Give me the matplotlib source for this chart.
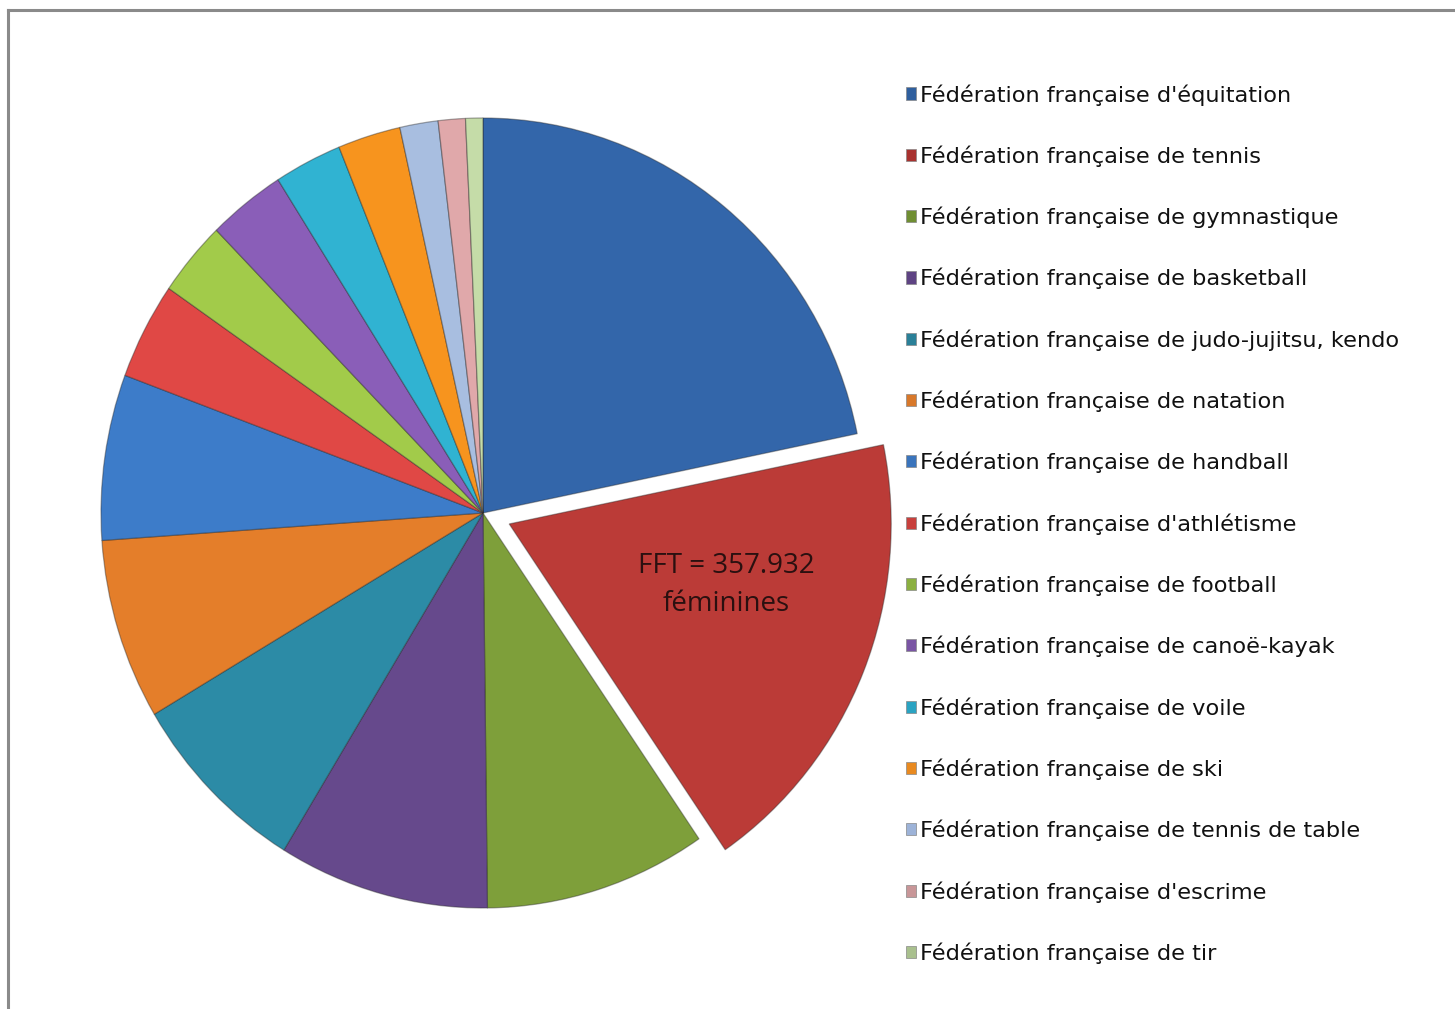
import matplotlib
matplotlib.use("Agg")
import matplotlib.pyplot as plt
from matplotlib.patches import Patch
from matplotlib.lines import Line2D

categories = [
    "Fédération française d'équitation",
    "Fédération française de tennis",
    "Fédération française de gymnastique",
    "Fédération française de basketball",
    "Fédération française de judo-jujitsu, kendo",
    "Fédération française de natation",
    "Fédération française de handball",
    "Fédération française d'athlétisme",
    "Fédération française de football",
    "Fédération française de canoë-kayak",
    "Fédération française de voile",
    "Fédération française de ski",
    "Fédération française de tennis de table",
    "Fédération française d'escrime",
    "Fédération française de tir",
]
# female licence holders (FFT = 357 932)
values = [418000, 357932, 180000, 171000, 149000, 142000, 130000, 76000,
          59000, 63000, 55000, 51000, 31000, 22000, 14000]
colors = ["#3366AA", "#BB3B37", "#7E9F3A", "#66498C", "#2C8BA6", "#E47E2A",
          "#3D7CC9", "#E04845", "#A2CB4A", "#8A5EB8", "#30B3D2", "#F7941E",
          "#A8BEE0", "#E0A8AA", "#C5DCA8"]
legend_colors = ["#2F5F9E", "#A8322F", "#6F8E32", "#5E4383", "#2A8098", "#D8782A",
                 "#3A74BC", "#C8403D", "#8BB040", "#7A55A4", "#2AA3C2", "#E98A20",
                 "#9DB3D8", "#C89698", "#A9C08E"]
explode = [0, 0.074] + [0] * 13
label_text = "FFT = 357.932\nféminines"

W, H = 1455, 1009
fig = plt.figure(figsize=(W / 100, H / 100), dpi=100)
fig.patch.set_facecolor("white")

cx, cy = 483, 513
rx, ry = 382, 395
lim = 1.2
ax = fig.add_axes([(cx - lim * rx) / W, (H - cy - lim * ry) / H,
                   2 * lim * rx / W, 2 * lim * ry / H])
wedges, _ = ax.pie(values, colors=colors, explode=explode, startangle=90,
                   counterclock=False,
                   wedgeprops=dict(edgecolor=(0.15, 0.15, 0.15, 0.4), linewidth=0.9))
ax.set_aspect("auto")
ax.set_xlim(-lim, lim)
ax.set_ylim(-lim, lim)
ax.axis("off")

ax.text(243 / rx, -72 / ry, label_text, ha="center", va="center",
        fontsize=20, color="#2a1010", family=["Open Sans", "DejaVu Sans"],
        linespacing=1.45)

handles = [Patch(facecolor=c, edgecolor="#888888", linewidth=0.5) for c in legend_colors]
leg = fig.legend(handles, categories, loc="upper left",
                 bbox_to_anchor=(906 / W, 1 - 84 / H),
                 frameon=False, prop=dict(family="DejaVu Sans", size=16.2),
                 handlelength=0.45, handleheight=0.45, handletextpad=0.15,
                 labelspacing=1.77, borderpad=0, borderaxespad=0)
for t in leg.get_texts():
    t.set_color("#111111")

# figure border (gray, left and top)
fig.add_artist(Line2D([8 / W, 8 / W], [0, 1 - 10 / H], color="#8a8a8a", linewidth=2.2,
                      transform=fig.transFigure))
fig.add_artist(Line2D([8 / W, 1], [1 - 10 / H, 1 - 10 / H], color="#8a8a8a", linewidth=2.2,
                      transform=fig.transFigure))

fig.savefig("out.png", dpi=100, facecolor="white")
